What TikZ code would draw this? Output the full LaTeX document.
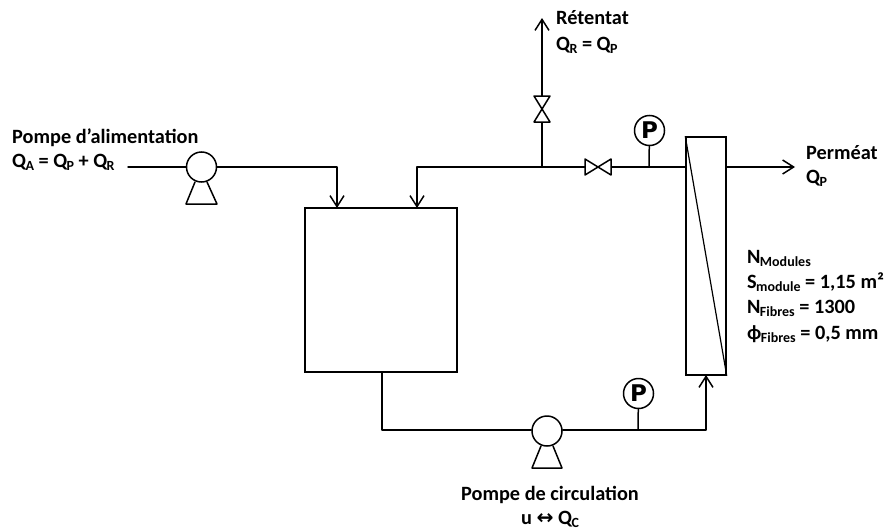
\documentclass[tikz,border=0pt]{standalone}
\usepackage{fontspec}
\setmainfont{Carlito}
\newfontfamily\symfont{DejaVu Sans}
\usetikzlibrary{arrows.meta,calc}
\newcommand{\sbs}[1]{\raisebox{-3.6pt}{\fontsize{14}{14}\selectfont\hspace{-.6pt}#1}}
\tikzset{
  pipe/.style={line width=1.5pt,line cap=round,line join=round},
  flow/.style={pipe,-{Straight Barb[length=11pt,width=14pt,line width=1.5pt]}},
  pumpc/.style={circle,draw,line width=1.5pt,minimum size=30pt,inner sep=0pt,fill=white},
  gauge/.style={circle,draw,line width=1.5pt,minimum size=30pt,inner sep=0pt,fill=white,font=\symfont\fontsize{23}{23}\selectfont\bfseries},
  vessel/.style={rectangle,draw,line width=1.5pt,inner sep=0pt,fill=white},
  lbl/.style={anchor=base west,inner sep=0pt,font=\fontsize{20.3}{22}\selectfont\bfseries},
  lblc/.style={anchor=base,inner sep=0pt,font=\fontsize{20.3}{22}\selectfont\bfseries},
  bowtie/.style={pipe,fill=white}
}
\begin{document}
\begin{tikzpicture}[x=1pt,y=-1pt]
\useasboundingbox (0,0) rectangle (886,530);
% named points
\coordinate (feed) at (128,167);
\coordinate (j1) at (542,167);
\coordinate (out) at (795,167);
\coordinate (ret) at (542,18);
\coordinate (jp1) at (649,167);
\coordinate (jp2) at (638,430);
\coordinate (corner) at (382,430);
\coordinate (tankA) at (337,208);
\coordinate (tankB) at (417,208);
\coordinate (tankC) at (382,372);
\coordinate (modB) at (706,375);
\coordinate (vh) at (598,167);
\coordinate (vv) at (542,109);
\coordinate (modL) at (686,167);
\coordinate (modR) at (726,167);
% vessels
\node[vessel,minimum width=152pt,minimum height=164pt] (tank) at (381,290) {};
\node[vessel,minimum width=40pt,minimum height=238pt] (module) at (706,256) {};
\draw[line width=1.2pt] (module.north west) -- (module.south east);
% pumps and gauges
\node[pumpc] (pump1) at (201.5,167) {};
\node[pumpc] (pump2) at (547,431) {};
\node[gauge] (g1) at (649.5,130.5) {P};
\node[gauge] (g2) at (638.5,393.5) {P};
% pipes
\draw[pipe] (feed) -- (feed -| pump1.west);
\draw[flow] (pump1.east) -| (tankA);
\draw[flow] (modL) -- (vh) -- (j1) -- (tankB |- j1) -- (tankB);
\draw[flow] (j1) -- (vv) -- (ret);
\draw[flow] (modR) -- (out);
\draw[pipe] (g1) -- (jp1);
\draw[pipe] (g2) -- (jp2);
\draw[pipe] (tankC) -- (corner) -- (pump2.west |- corner);
\draw[flow] (pump2.east |- jp2) -- (jp2) -| (modB);
% pump feet
\draw[pipe] (195,182) -- (186,204) -- (217,204) -- (207,182);
\draw[pipe] (541,446) -- (532,468) -- (562,468) -- (553,446);
% valves
\draw[bowtie] ($(vh)+(-13,-8)$) -- ($(vh)+(13,8)$) -- ($(vh)+(13,-8)$) -- ($(vh)+(-13,8)$) -- cycle;
\draw[bowtie] ($(vv)+(-8,-13)$) -- ($(vv)+(8,-13)$) -- ($(vv)+(-8,13)$) -- ($(vv)+(8,13)$) -- cycle;
% labels
\node[lbl] (t1) at (12,143) {Pompe d’alimentation};
\node[lbl] (t2) at (12,167) {Q\sbs{A} = Q\sbs{P} + Q\sbs{R}};
\node[lbl] (t3) at (556,24) {Rétentat};
\node[lbl] (t4) at (556,50) {Q\sbs{R} = Q\sbs{P}};
\node[lbl] (t5) at (806,159) {Perméat};
\node[lbl] (t6) at (806,183) {Q\sbs{P}};
\node[lbl] (t7) at (747,263) {N\sbs{Modules}};
\node[lbl] (t8) at (747,288) {S\sbs{module} = 1,15 m²};
\node[lbl] (t9) at (747,313) {N\sbs{Fibres} = 1300};
\node[lbl] (t10) at (747,339) {ϕ\sbs{Fibres} = 0,5 mm};
\node[lblc] (t11) at (550,500) {Pompe de circulation};
\node[lblc] (t12) at (550,524) {u {\symfont↔} Q\sbs{C}};
\end{tikzpicture}
\end{document}
